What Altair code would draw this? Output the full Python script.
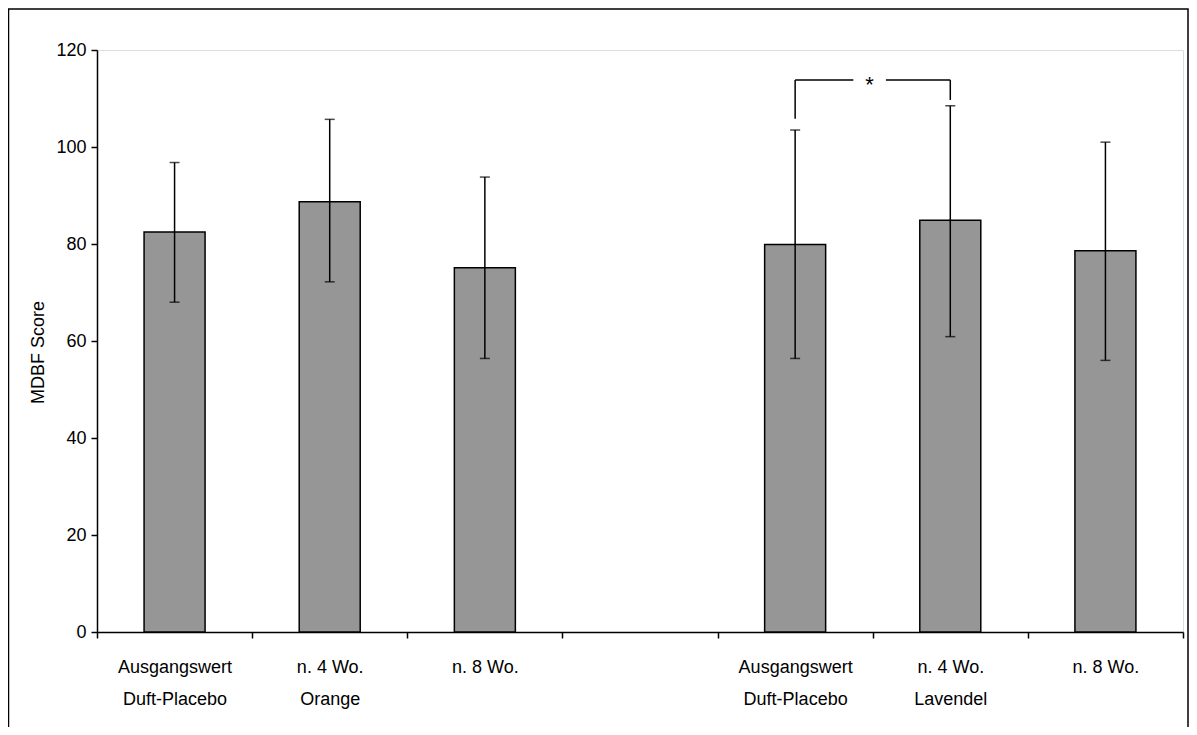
import json
import altair as alt
import pandas as pd

# ---- data ----
LABELS = [
    ["Ausgangswert", "Duft-Placebo"],
    ["n. 4 Wo.", "Orange"],
    ["n. 8 Wo."],
    [""],
    ["Ausgangswert", "Duft-Placebo"],
    ["n. 4 Wo.", "Lavendel"],
    ["n. 8 Wo."],
]
MEANS = [82.5, 88.7, 75.1, None, 79.9, 84.9, 78.6]
UPPER = [96.8, 105.7, 93.8, None, 103.5, 108.5, 101.0]
LOWER = [68.0, 72.2, 56.4, None, 56.4, 60.9, 56.0]

# significance bracket between slot 4 and slot 5 (0-based)
SIG_PAIR = [4, 5]
SIG_TOP = 113.8
SIG_LEFT_BOTTOM = 105.8
SIG_RIGHT_BOTTOM = 109.7
SIG_TEXT = "*"

FONT = "Liberation Sans"
N = len(LABELS)
W, H = 1086, 582
PAD = {"left": 89, "top": 42, "right": 6, "bottom": 95}

rows = []
for i in range(N):
    if MEANS[i] is None:
        continue
    rows.append({"pos": i + 0.5, "mean": MEANS[i], "lo": LOWER[i], "hi": UPPER[i]})
df = pd.DataFrame(rows)

xscale = alt.Scale(domain=[0, N], nice=False, zero=False, padding=0)
yscale = alt.Scale(domain=[0, 120], nice=False)

x_axis = alt.Axis(
    values=list(range(N + 1)),
    labelExpr=f"({json.dumps(LABELS)})[datum.value] || ''",
    labelOffset=W / N / 2,
    labelFlush=False,
    labelOverlap=False,
    labelFont=FONT,
    labelFontSize=18,
    labelColor="black",
    labelPadding=20,
    labelLineHeight=32,
    labelBaseline="top",
    tickSize=6,
    tickColor="black",
    tickWidth=1.5,
    domainColor="black",
    domainWidth=1.5,
    grid=False,
    title=None,
)
y_axis = alt.Axis(
    values=[0, 20, 40, 60, 80, 100, 120],
    labelFont=FONT,
    labelFontSize=18,
    labelColor="black",
    labelFlush=False,
    labelPadding=5,
    tickSize=6,
    tickColor="black",
    tickWidth=1.5,
    domainColor="black",
    domainWidth=1.5,
    grid=False,
    title="MDBF Score",
    titleFont=FONT,
    titleFontSize=18,
    titleFontWeight="normal",
    titleColor="black",
    titlePadding=8,
    titleY=302,
)

base = alt.Chart(df)
bars = base.mark_bar(size=61, color="#969696", stroke="black", strokeWidth=1.5).encode(
    x=alt.X("pos:Q", scale=xscale, axis=x_axis),
    y=alt.Y("mean:Q", scale=yscale, axis=y_axis),
)
err = base.mark_rule(color="black", strokeWidth=1.5).encode(
    x="pos:Q", y="lo:Q", y2="hi:Q"
)
caps_hi = base.mark_tick(orient="horizontal", size=10, thickness=1.5, color="black").encode(
    x="pos:Q", y="hi:Q"
)
caps_lo = base.mark_tick(orient="horizontal", size=10, thickness=1.5, color="black").encode(
    x="pos:Q", y="lo:Q"
)

# bracket
a, b = SIG_PAIR[0] + 0.5, SIG_PAIR[1] + 0.5
mid = (a + b) / 2 - 0.02
gap = 0.105
br_v = pd.DataFrame({
    "x": [a, b],
    "y1": [SIG_LEFT_BOTTOM, SIG_RIGHT_BOTTOM],
    "y2": [SIG_TOP, SIG_TOP],
})
br_h = pd.DataFrame({"x1": [a, mid + gap], "x2": [mid - gap, b], "y": [SIG_TOP, SIG_TOP]})
br_t = pd.DataFrame({"x": [mid], "y": [SIG_TOP], "t": [SIG_TEXT]})
vert = alt.Chart(br_v).mark_rule(color="black", strokeWidth=1.5).encode(
    x="x:Q", y="y1:Q", y2="y2:Q"
)
horiz = alt.Chart(br_h).mark_rule(color="black", strokeWidth=1.5).encode(
    x="x1:Q", x2="x2:Q", y="y:Q"
)
star = alt.Chart(br_t).mark_text(font=FONT, fontSize=22, color="black", baseline="alphabetic", dy=12).encode(
    x="x:Q", y="y:Q", text="t:N"
)

frame = alt.Chart(pd.DataFrame({"k": [0]})).mark_rect(
    fillOpacity=0, stroke="black", strokeWidth=1.5
).encode(
    x=alt.value(-88.5), x2=alt.value(W + 5), y=alt.value(-41), y2=alt.value(H + 200)
)

chart = alt.layer(bars, err, caps_hi, caps_lo, vert, horiz, star, frame).properties(
    width=W, height=H, autosize=alt.AutoSizeParams(type="none"), padding=PAD
).configure_view(stroke="#8c8c8c", strokeWidth=1.5).configure(background="white")

chart.save("out.html", embed_options={"renderer": "svg", "actions": False})
